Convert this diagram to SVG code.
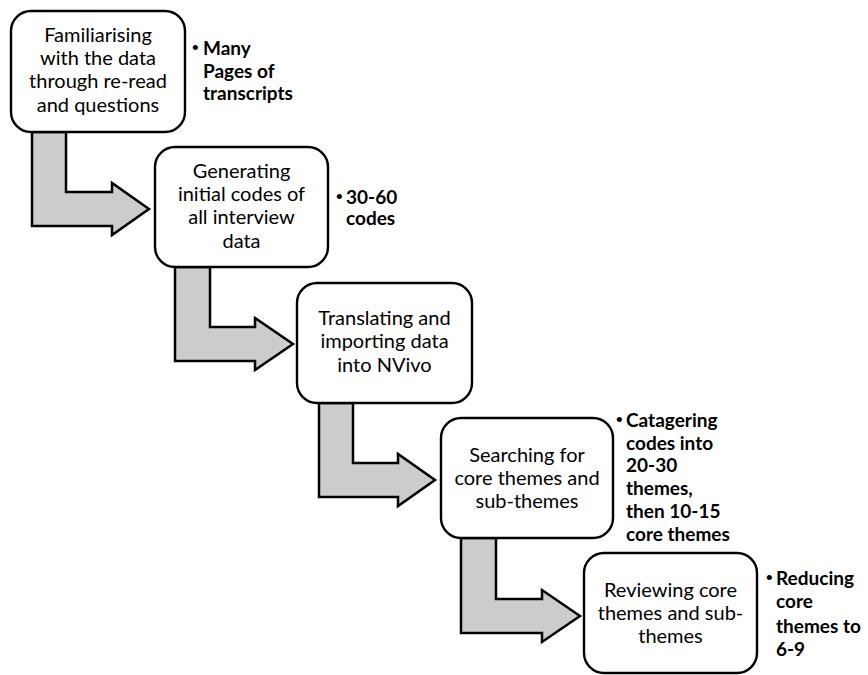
<svg xmlns="http://www.w3.org/2000/svg" width="868" height="675" viewBox="0 0 868 675">
  <style>
    .arrow { fill: #cccccc; stroke: #000; stroke-width: 2.5; stroke-linejoin: miter; }
    .box { fill: #fff; stroke: #000; stroke-width: 2.4; }
    .label { font-family: Lato, "Open Sans", sans-serif; font-size: 20px; fill: #000; text-anchor: middle; }
    .note { font-family: Lato, "Open Sans", sans-serif; font-size: 19px; font-weight: bold; fill: #000; }
    .bullet { font-family: "Liberation Sans", sans-serif; font-size: 19px; fill: #000; }
  </style>
  <rect width="868" height="675" fill="#fff"/>

  <!-- elbow arrows between steps -->
  <g id="connectors">
    <path class="arrow" d="M32,132 H66 V192 H112 V183 L149,209 L112,235 V226 H32 Z"/>
    <path class="arrow" d="M175,267 H210 V327 H255 V318 L293,344 L255,370 V361 H175 Z"/>
    <path class="arrow" d="M319,403 H353 V463 H398 V454 L435,480 L398,506 V497 H319 Z"/>
    <path class="arrow" d="M461,538 H496 V599 H542 V590 L580,616 L542,642 V633 H461 Z"/>
  </g>

  <g id="step1">
    <rect class="box" x="11" y="11" width="174" height="121" rx="20"/>
    <text class="label" x="98" y="42">Familiarising</text>
    <text class="label" x="98" y="65">with the data</text>
    <text class="label" x="98" y="88">through re-read</text>
    <text class="label" x="98" y="112">and questions</text>
    <text class="bullet" x="192" y="54">•</text>
    <text class="note" x="203" y="55">Many</text>
    <text class="note" x="203" y="78">Pages of</text>
    <text class="note" x="203" y="100">transcripts</text>
  </g>

  <g id="step2">
    <rect class="box" x="155" y="147" width="173" height="120" rx="20"/>
    <text class="label" x="241.5" y="178">Generating</text>
    <text class="label" x="241.5" y="201">initial codes of</text>
    <text class="label" x="241.5" y="224">all interview</text>
    <text class="label" x="241.5" y="248">data</text>
    <text class="bullet" x="336" y="203">•</text>
    <text class="note" x="346" y="204">30-60</text>
    <text class="note" x="346" y="225">codes</text>
  </g>

  <g id="step3">
    <rect class="box" x="297" y="283" width="175" height="120" rx="20"/>
    <text class="label" x="384.5" y="325">Translating and</text>
    <text class="label" x="384.5" y="348">importing data</text>
    <text class="label" x="384.5" y="372">into NVivo</text>
  </g>

  <g id="step4">
    <rect class="box" x="441" y="418" width="172" height="120" rx="20"/>
    <text class="label" x="527" y="462">Searching for</text>
    <text class="label" x="527" y="485">core themes and</text>
    <text class="label" x="527" y="508">sub-themes</text>
    <text class="bullet" x="616" y="426">•</text>
    <text class="note" x="626" y="427">Catagering</text>
    <text class="note" x="626" y="450">codes into</text>
    <text class="note" x="626" y="472">20-30</text>
    <text class="note" x="626" y="495">themes,</text>
    <text class="note" x="626" y="518">then 10-15</text>
    <text class="note" x="626" y="541">core themes</text>
  </g>

  <g id="step5">
    <rect class="box" x="584" y="553" width="173" height="120" rx="20"/>
    <text class="label" x="670.5" y="597">Reviewing core</text>
    <text class="label" x="670.5" y="620">themes and sub-</text>
    <text class="label" x="670.5" y="643">themes</text>
    <text class="bullet" x="766" y="584">•</text>
    <text class="note" x="776" y="585">Reducing</text>
    <text class="note" x="776" y="608">core</text>
    <text class="note" x="776" y="633">themes to</text>
    <text class="note" x="776" y="656">6-9</text>
  </g>
</svg>
